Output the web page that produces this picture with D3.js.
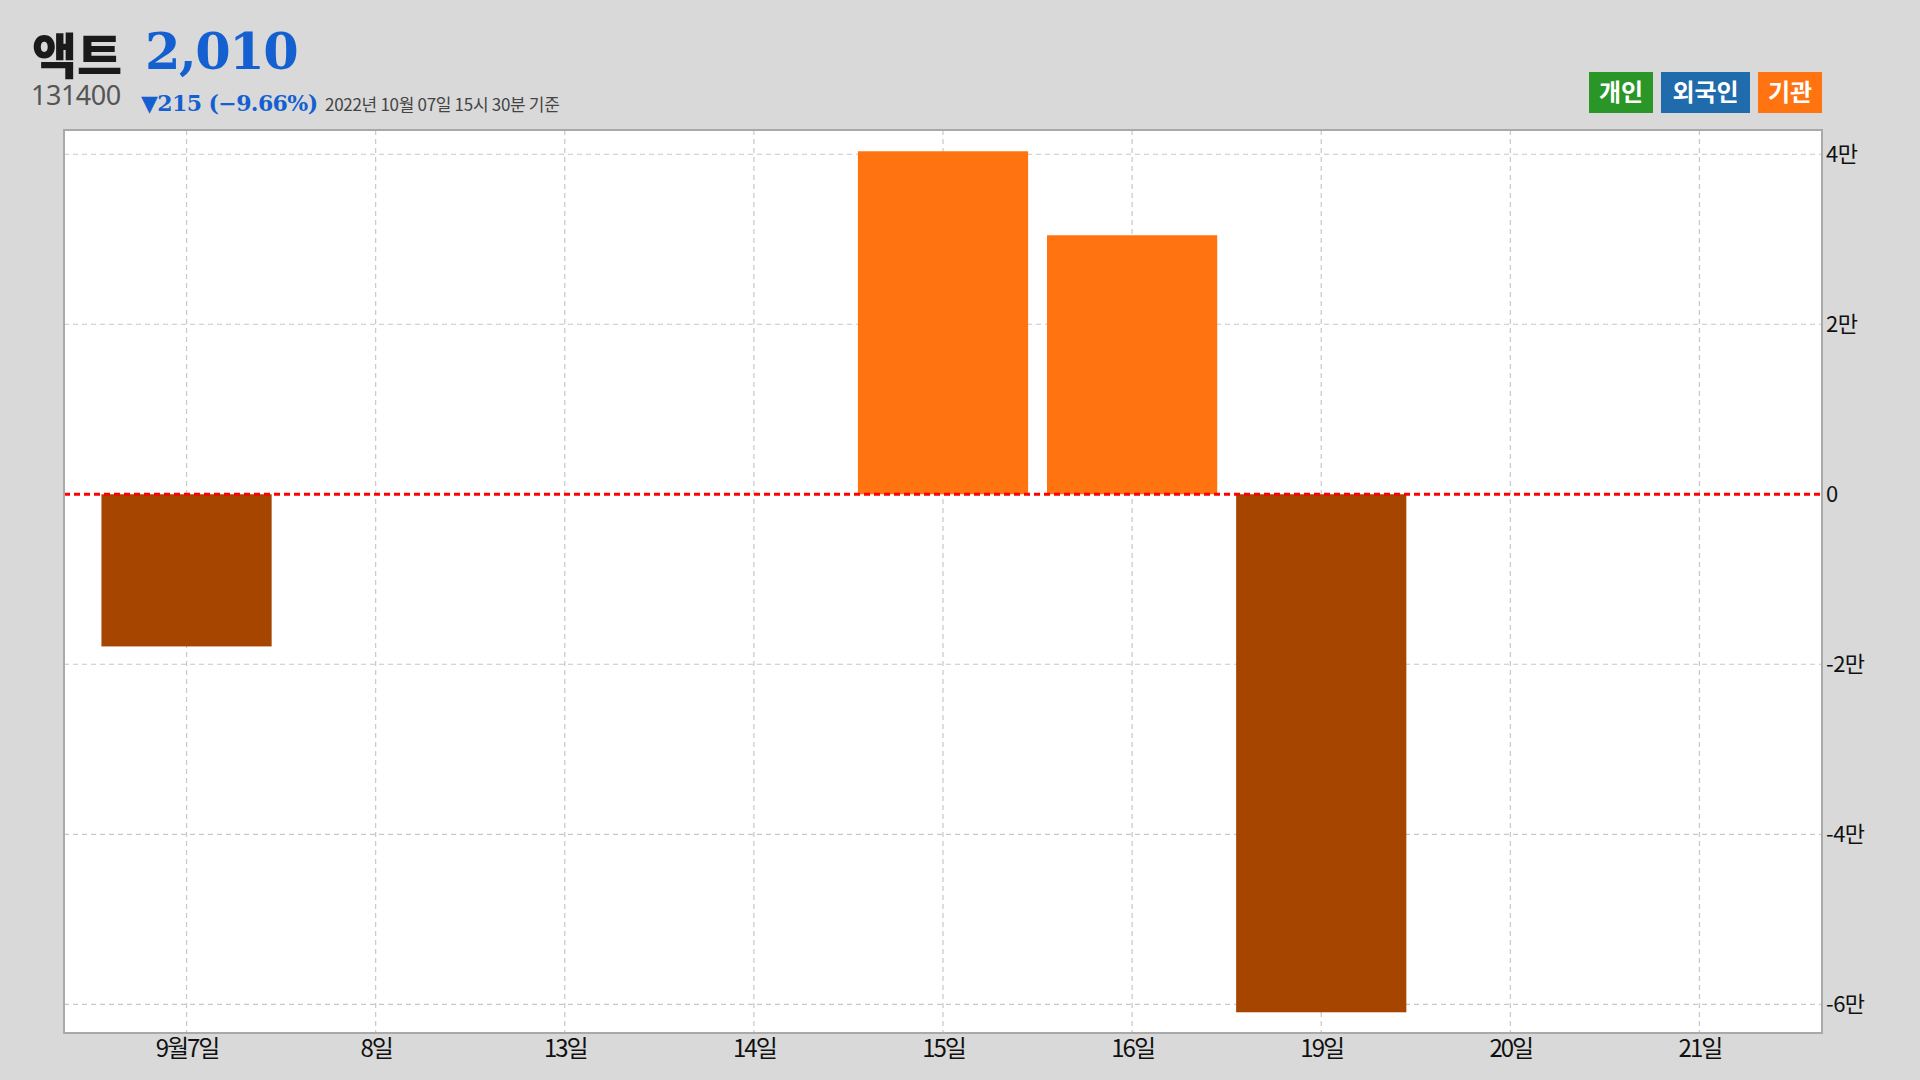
<!DOCTYPE html>
<html>
<head>
<meta charset="utf-8">
<script src="https://cdn.jsdelivr.net/npm/d3@7"></script>
<style>
  html, body { margin: 0; padding: 0; background: #d9d9d9; }
  svg { display: block; }
</style>
</head>
<body>
<svg id="chart" width="1920" height="1080"></svg>
<script>
// ---- data ----
const categories = ["9월7일", "8일", "13일", "14일", "15일", "16일", "19일", "20일", "21일"];
const institutionValues = [-17900, 0, 0, 0, 40350, 30470, -60940, 0, 0];
const yTickValues = [40000, 20000, 0, -20000, -40000, -60000];
const yTickLabels = ["4만", "2만", "0", "-2만", "-4만", "-6만"];
const legendLabels = ["개인", "외국인", "기관"];
const legendColors = ["#2a9628", "#1f6bab", "#ff7311"];
const stockName = "액트";
const stockCode = "131400";
const stockPrice = "2,010";
const stockChange = "▼215 (−9.66%)";
const stockTime = "2022년 10월 07일 15시 30분 기준";

// ---- layout ----
const W = 1920, H = 1080;
const plot = { left: 64, right: 1822, top: 130, bottom: 1033 };
const svg = d3.select("#chart");
svg.append("rect").attr("width", W).attr("height", H).attr("fill", "#d9d9d9");

const x = d3.scalePoint().domain(categories).range([plot.left, plot.right]).padding(0.648);
const barW = x.step() * 0.9;
const yMax = d3.max(institutionValues) * 1.062;
const yMin = d3.min(institutionValues) * 1.04;
const y = d3.scaleLinear().domain([yMin, yMax]).range([plot.bottom, plot.top]);

// plot background
svg.append("rect")
  .attr("x", plot.left).attr("y", plot.top)
  .attr("width", plot.right - plot.left).attr("height", plot.bottom - plot.top)
  .attr("fill", "#ffffff");

// grid
const grid = svg.append("g");
grid.selectAll("line.v").data(categories).join("line")
  .attr("x1", d => x(d)).attr("x2", d => x(d))
  .attr("y1", plot.top).attr("y2", plot.bottom)
  .attr("stroke", "#c8c8c8").attr("stroke-width", 1.2).attr("stroke-dasharray", "5,4");
grid.selectAll("line.h").data(yTickValues.filter(v => v !== 0)).join("line")
  .attr("x1", plot.left).attr("x2", plot.right)
  .attr("y1", d => y(d)).attr("y2", d => y(d))
  .attr("stroke", "#c8c8c8").attr("stroke-width", 1.2).attr("stroke-dasharray", "5,4");

// bars
svg.append("g").selectAll("rect").data(categories.map((c, i) => ({ c, v: institutionValues[i] })).filter(d => d.v !== 0))
  .join("rect")
  .attr("x", d => x(d.c) - barW / 2)
  .attr("width", barW)
  .attr("y", d => y(Math.max(0, d.v)))
  .attr("height", d => Math.abs(y(d.v) - y(0)))
  .attr("fill", d => d.v >= 0 ? "#ff7311" : "#a64500");

// zero line
svg.append("line")
  .attr("x1", plot.left).attr("x2", plot.right)
  .attr("y1", y(0)).attr("y2", y(0))
  .attr("stroke", "#ff0000").attr("stroke-width", 3).attr("stroke-dasharray", "6,4");

// frame
svg.append("rect")
  .attr("x", plot.left).attr("y", plot.top)
  .attr("width", plot.right - plot.left).attr("height", plot.bottom - plot.top)
  .attr("fill", "none").attr("stroke", "#a9a9a9").attr("stroke-width", 2);

// y axis (right)
const ff = "'Noto Sans CJK KR', 'Noto Sans', sans-serif";
const yAxis = d3.axisRight(y).tickValues(yTickValues).tickSize(0).tickPadding(4)
  .tickFormat((d, i) => yTickLabels[i]);
const gy = svg.append("g").attr("transform", `translate(${plot.right},0)`).call(yAxis);
gy.select(".domain").remove();
gy.selectAll("text")
  .attr("font-family", ff)
  .attr("font-size", 22).attr("fill", "#111").attr("letter-spacing", -0.5);

// x axis
const xAxis = d3.axisBottom(x).tickSize(0).tickPadding(7);
const gx = svg.append("g").attr("transform", `translate(0,${plot.bottom})`).call(xAxis);
gx.select(".domain").remove();
gx.selectAll("text")
  .attr("font-family", ff)
  .attr("font-size", 24).attr("fill", "#111")
  .attr("letter-spacing", -2);

// header
svg.append("text").attr("x", 32).attr("y", 74)
  .attr("font-family", ff).attr("font-weight", 900).attr("font-size", 49)
  .attr("fill", "#1a1a1a").text(stockName);
svg.append("text").attr("x", 145).attr("y", 69)
  .attr("font-family", "'DejaVu Serif', serif").attr("font-weight", "bold").attr("font-size", 51)
  .attr("fill", "#1560d0").attr("letter-spacing", -1.5).text(stockPrice);
svg.append("text").attr("x", 31).attr("y", 105)
  .attr("font-family", "'Noto Sans', sans-serif").attr("font-size", 27)
  .attr("fill", "#555").attr("letter-spacing", -0.5).text(stockCode);
svg.append("text").attr("x", 141).attr("y", 111)
  .attr("font-family", "'DejaVu Serif', serif").attr("font-weight", "bold").attr("font-size", 22)
  .attr("fill", "#1560d0").attr("letter-spacing", -0.6).text(stockChange);
svg.append("text").attr("x", 325).attr("y", 111)
  .attr("font-family", ff).attr("font-size", 17)
  .attr("fill", "#444").attr("letter-spacing", -0.3).text(stockTime);

// legend
const legendBoxes = [
  { x: 1589, w: 64 },
  { x: 1661, w: 89 },
  { x: 1758, w: 64 }
];
const lg = svg.append("g");
legendLabels.forEach((lab, i) => {
  lg.append("rect").attr("x", legendBoxes[i].x).attr("y", 72)
    .attr("width", legendBoxes[i].w).attr("height", 41).attr("fill", legendColors[i]);
  lg.append("text").attr("x", legendBoxes[i].x + legendBoxes[i].w / 2).attr("y", 101)
    .attr("text-anchor", "middle")
    .attr("font-family", ff).attr("font-weight", "bold").attr("font-size", 24)
    .attr("fill", "#fff").text(lab);
});
</script>
</body>
</html>
